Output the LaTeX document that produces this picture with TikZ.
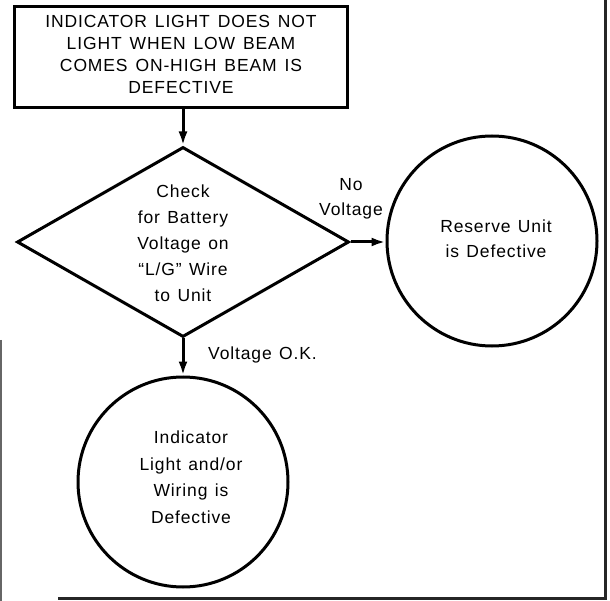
\documentclass[tikz,border=0pt]{standalone}
\usepackage{fontspec}
\setmainfont[LetterSpace=5]{Liberation Sans}
\usetikzlibrary{shapes.geometric,arrows.meta}
\newcommand\myfnt[2]{\fontsize{17.5}{#1}\selectfont\spaceskip=#2em plus 0.1em\relax}
\begin{document}
\begin{tikzpicture}[x=1pt,y=-1pt,
  txt/.style={align=center,inner sep=0pt},
  outline/.style={draw,line width=3pt},
  boxnode/.style={outline,rectangle,minimum width=333pt,minimum height=101pt,inner sep=0pt},
  decision/.style={outline,diamond,minimum width=332pt,minimum height=190pt,inner sep=0pt,aspect=1.75},
  endnode/.style={outline,circle,minimum size=210pt,inner sep=0pt},
  flow/.style={line width=3pt,-{Latex[length=14pt,width=9pt]}},
  frame/.style={line width=3pt,black!85}]
\useasboundingbox (0,0) rectangle (610,601);
% frame remnants
\draw[frame] (605,0) -- (605,598) -- (58,598);
\draw[frame,line width=2pt,black!60] (1,340) -- (1,601);
% nodes
\node[boxnode] (start) at (180.5,57.5) {};
\node[txt,font=\myfnt{22}{0.45}] (starttext) at (181,54) {INDICATOR LIGHT DOES NOT\\LIGHT WHEN LOW BEAM\\COMES ON-HIGH BEAM IS\\DEFECTIVE};
\node[decision] (check) at (183,242) {};
\node[txt,font=\myfnt{26}{0.42}] (checktext) at (183,243) {Check\\for Battery\\Voltage on\\``L/G'' Wire\\to Unit};
\node[endnode] (reserve) at (492,241) {};
\node[txt,font=\myfnt{25}{0.42}] (reservetext) at (496,239) {Reserve Unit\\is Defective};
\node[endnode] (light) at (183,482) {};
\node[txt,font=\myfnt{26.5}{0.42}] (lighttext) at (191,477) {Indicator\\Light and/or\\Wiring is\\Defective};
% labels
\node[txt,font=\myfnt{25}{0.42}] (nolabel) at (351,199) {No\\Voltage};
\node[txt,anchor=west,font=\myfnt{22}{0.42}] (oklabel) at (208,355) {Voltage O.K.};
% connectors
\draw[flow] (start.south -| check.north) -- (check.north);
\draw[flow] (check.east) -- (check.east -| reserve.west);
\draw[flow] (check.south) -- (light.north);
\end{tikzpicture}
\end{document}
